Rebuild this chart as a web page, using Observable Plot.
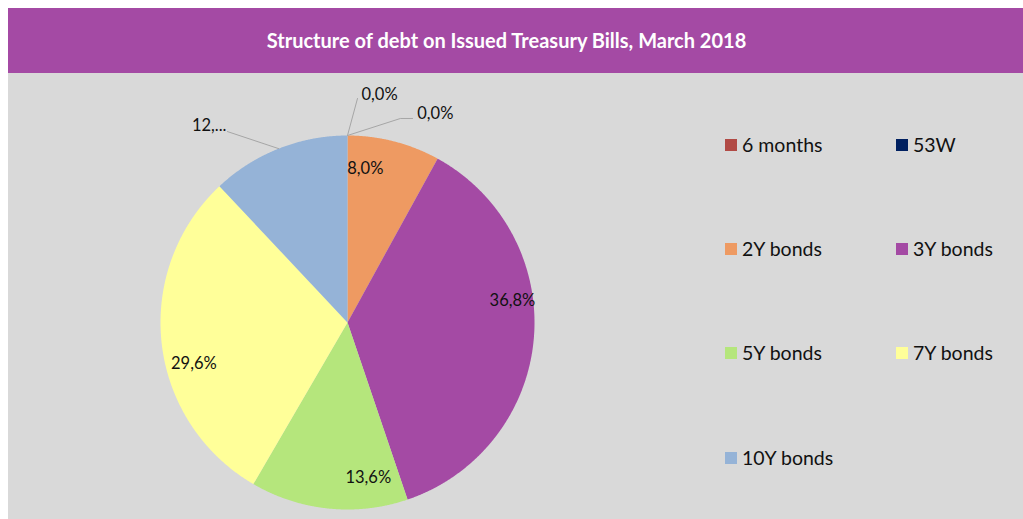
<!DOCTYPE html>
<html><head><meta charset="utf-8">
<script src="https://cdn.jsdelivr.net/npm/d3@7"></script>
<script src="https://cdn.jsdelivr.net/npm/@observablehq/plot@0.6"></script>
<style>
html,body{margin:0;padding:0;background:#fff;width:1023px;height:519px;overflow:hidden;font-family:Lato,"Open Sans",sans-serif;}
#panel{position:absolute;left:8px;top:8px;width:1015px;height:511px;background:#d9d9d9;}
#title{position:absolute;left:0;top:0;width:1015px;height:65px;background:#a44aa4;color:#fff;font-weight:bold;font-size:20px;line-height:65px;text-align:center;white-space:nowrap;}
#title span{position:relative;left:-9px;}
#chart{position:absolute;left:0;top:65px;}
.leg{position:absolute;font-size:19.5px;color:#111;line-height:20px;white-space:nowrap;}
.leg i{position:absolute;left:-17px;top:4px;width:12px;height:12px;}
</style></head><body>
<div id="panel">
  <div id="title"><span>Structure of debt on Issued Treasury Bills, March 2018</span></div>
  <div id="chart"></div>
  <div id="legend"></div>
</div>
<script>
// ---- data ----
const categories = ["6 months", "53W", "2Y bonds", "3Y bonds", "5Y bonds", "7Y bonds", "10Y bonds"];
const values = [0.0, 0.0, 8.0, 36.8, 13.6, 29.6, 12.0];
const displayLabels = ["0,0%", "0,0%", "8,0%", "36,8%", "13,6%", "29,6%", "12,..."];
const colors = ["#b14a45", "#002060", "#ee9a62", "#a44aa4", "#b5e67c", "#ffff99", "#95b3d7"];

// ---- layout (unit-radius coordinates, not data) ----
const insideLabelPlacement = {2: {a: 6.6, r: 0.83}, 3: {a: 82.4, r: 0.89}, 4: {a: 172.4, r: 0.84}, 5: {a: 255.1, r: 0.85}};
const outsideLabelPlacement = {
  0: {bend: [[0.0535, 1.198]], text: [0.075, 1.219], anchor: "start"},
  1: {bend: [[0.283, 1.091], [0.348, 1.091]], text: [0.373, 1.118], anchor: "start"},
  6: {bend: [[-0.642, 1.021]], text: [-0.647, 1.053], anchor: "end"}
};

const total = d3.sum(values);
const rad = (deg) => deg * Math.PI / 180;
let acc = 0;
const slices = categories.map((c, i) => {
  const a0 = acc / total * 360;
  acc += values[i];
  const a1 = acc / total * 360;
  return {category: c, i, value: values[i], a0, a1, mid: (a0 + a1) / 2};
});

// slice polygons
const polyPts = [];
for (const s of slices) {
  if (s.value <= 0) continue;
  polyPts.push({category: s.category, x: 0, y: 0});
  const n = Math.max(2, Math.ceil((s.a1 - s.a0) / 0.25));
  for (let k = 0; k <= n; k++) {
    const t = rad(s.a0 + (s.a1 - s.a0) * k / n);
    polyPts.push({category: s.category, x: Math.sin(t), y: Math.cos(t)});
  }
  polyPts.push({category: s.category, x: 0, y: 0});
}

// inside labels
const inLabels = slices.filter(s => insideLabelPlacement[s.i]).map(s => {
  const p = insideLabelPlacement[s.i];
  return {text: displayLabels[s.i], x: p.r * Math.sin(rad(p.a)), y: p.r * Math.cos(rad(p.a))};
});

// outside labels + leaders
const leaderPts = [];
const outLabels = [];
for (const s of slices) {
  const p = outsideLabelPlacement[s.i];
  if (!p) continue;
  leaderPts.push({k: s.category, x: Math.sin(rad(s.mid)), y: Math.cos(rad(s.mid))});
  for (const b of p.bend) leaderPts.push({k: s.category, x: b[0], y: b[1]});
  outLabels.push({text: displayLabels[s.i], x: p.text[0], y: p.text[1], anchor: p.anchor});
}

const font = "Lato, 'Open Sans', sans-serif";
const fs = 16.5;
const chart = Plot.plot({
  width: 1015,
  height: 446,
  margin: 0,
  style: {background: "transparent", fontFamily: font, overflow: "visible"},
  x: {domain: [-1, 1], range: [152, 526], axis: null},
  y: {domain: [-1, 1], range: [436, 62], axis: null},
  color: {domain: categories, range: colors},
  marks: [
    Plot.line(polyPts, {x: "x", y: "y", z: "category", fill: "category", stroke: "none", curve: "linear"}),
    Plot.line(leaderPts, {x: "x", y: "y", z: "k", stroke: "#a6a6a6", strokeWidth: 1}),
    Plot.text(inLabels, {x: "x", y: "y", text: "text", fontSize: fs, fill: "#111", textAnchor: "middle"}),
    Plot.text(outLabels.filter(d => d.anchor === "start"), {x: "x", y: "y", text: "text", fontSize: fs, fill: "#111", textAnchor: "start"}),
    Plot.text(outLabels.filter(d => d.anchor === "end"), {x: "x", y: "y", text: "text", fontSize: fs, fill: "#111", textAnchor: "end"})
  ]
});
document.getElementById("chart").appendChild(chart);

// legend (HTML), two columns row-wise
const legCols = [734, 905];
const legRows = [137, 241, 345, 450];
const legend = document.getElementById("legend");
categories.forEach((c, i) => {
  const d = document.createElement("div");
  d.className = "leg";
  d.style.left = legCols[i % 2] + "px";
  d.style.top = (legRows[Math.floor(i / 2)] - 10) + "px";
  d.innerHTML = `<i style="background:${colors[i]}"></i>${c}`;
  legend.appendChild(d);
});
</script>
</body></html>
